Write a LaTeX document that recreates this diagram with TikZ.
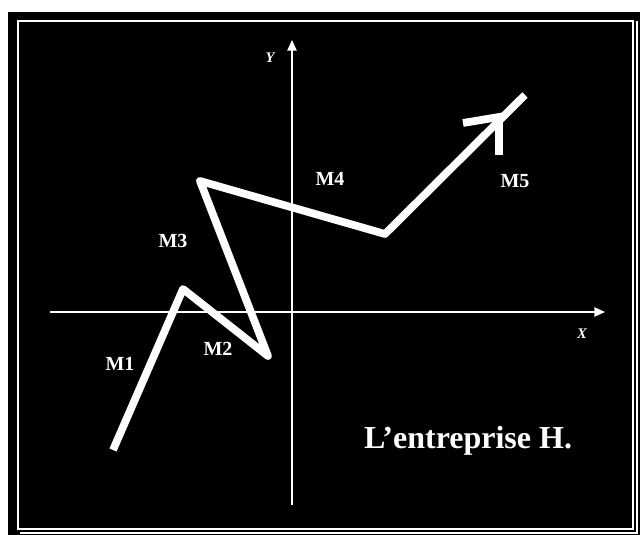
\documentclass[tikz,border=0pt]{standalone}
\usepackage{fontspec}
\setmainfont{Liberation Serif}
\usetikzlibrary{positioning,calc,arrows.meta}
\definecolor{nightbg}{RGB}{0,0,0}
\definecolor{chalk}{RGB}{255,255,255}
\newcommand{\axtext}[1]{{\fontsize{11}{13}\selectfont\bfseries\itshape\color{chalk}#1}}

\begin{document}
\begin{tikzpicture}[x=0.75pt,y=-0.75pt,
  zigline/.style={chalk,line width=5.8pt,line join=round},
  axis/.style={chalk,line width=1.1pt,-{Triangle[length=8pt,width=7pt]}},
  mlabel/.style={text=chalk,font=\fontsize{15}{17}\selectfont\bfseries}
]
\useasboundingbox (0,0) rectangle (640,535);
\fill[nightbg] (8,12) rectangle (640,535);
\draw[chalk,line width=1.5pt] (17.5,21) rectangle (633,529);
\draw[chalk!70,line width=1pt] (637,21) -- (637,533) -- (20,533);
% axes
\coordinate (o) at (292,312);
\draw[axis] (o |- 0,505) -- (o |- 0,40);
\draw[axis] (50,312) -- (605,312);
\node at (270,58) {\axtext{Y}};
\node at (582,334) {\axtext{X}};
% zig-zag
\coordinate (p1) at (113,450);
\coordinate (p2) at (183,289);
\coordinate (p3) at (268,356);
\coordinate (p4) at (200,181);
\coordinate (p5) at (385,234);
\coordinate (p6) at (525,95);
\coordinate (tip) at (499,117);
\draw[zigline] (p1) -- (p2) -- (p3) -- (p4) -- (p5) -- (p6);
\draw[zigline,line join=miter] (463,123) -- (tip) -- (499,155);
\node[mlabel] (m1) at (120,364) {M1};
\node[mlabel] (m2) at (218,349) {M2};
\node[mlabel] (m3) at (173,241) {M3};
\node[mlabel] (m4) at (330,179) {M4};
\node[mlabel] (m5) at (515,181) {M5};
\node[text=chalk,font=\fontsize{24}{28}\selectfont\bfseries] (firm) at (468,441) {L’entreprise H.};
\end{tikzpicture}
\end{document}
